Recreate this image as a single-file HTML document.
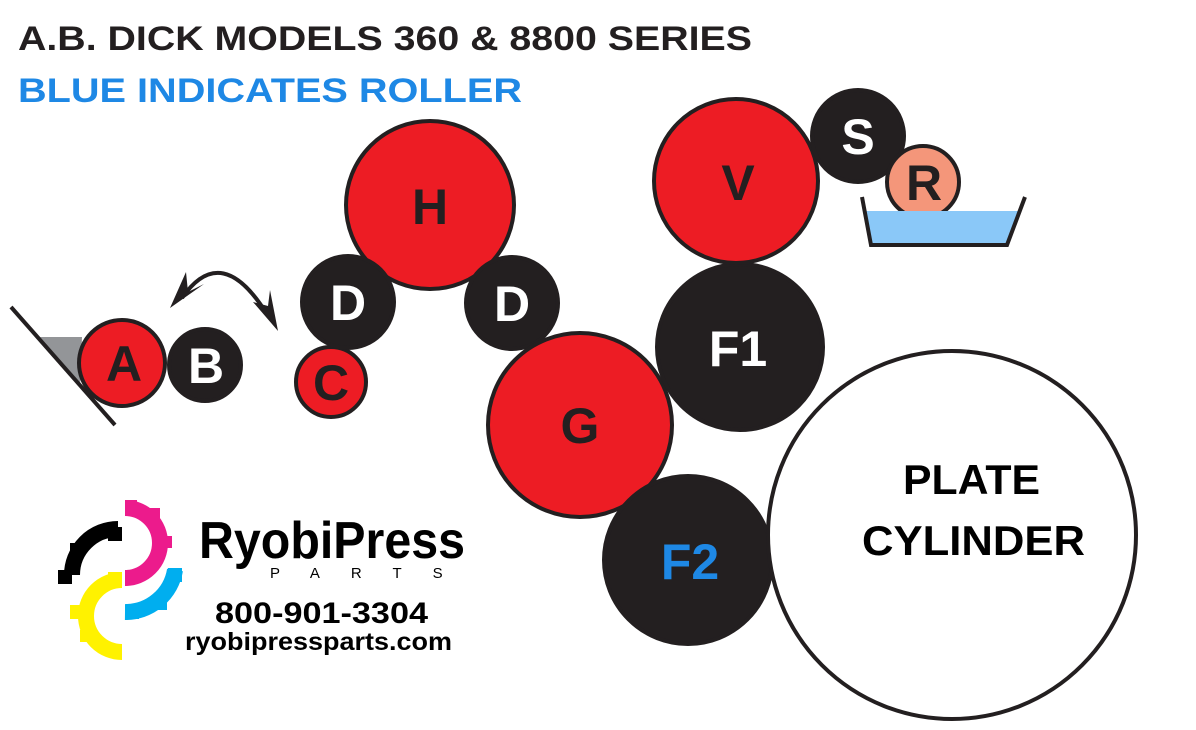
<!DOCTYPE html>
<html><head><style>
html,body{margin:0;padding:0;background:#fff;}
svg{display:block;}
text{font-family:"Liberation Sans",sans-serif;font-weight:bold;}
</style></head><body>
<svg width="1196" height="730" viewBox="0 0 1196 730" xmlns="http://www.w3.org/2000/svg">
<text x="18" y="50" font-size="34" fill="#231f20" textLength="734" lengthAdjust="spacingAndGlyphs">A.B. DICK MODELS 360 &amp; 8800 SERIES</text>
<text x="18" y="102" font-size="34" fill="#1e88e5" textLength="504" lengthAdjust="spacingAndGlyphs">BLUE INDICATES ROLLER</text>

<polygon points="40,337 82,337 80,385" fill="#939598"/>
<line x1="11" y1="307" x2="115" y2="425" stroke="#231f20" stroke-width="4"/>
<g stroke="#231f20" stroke-width="4">
<circle cx="122" cy="363" r="43" fill="#ed1c24"/>
<circle cx="205" cy="365" r="36" fill="#231f20"/>
<circle cx="331" cy="382" r="35" fill="#ed1c24"/>
<circle cx="430" cy="205" r="84" fill="#ed1c24"/>
<circle cx="348" cy="302" r="46" fill="#231f20"/>
<circle cx="512" cy="303" r="46" fill="#231f20"/>
<circle cx="580" cy="425" r="92" fill="#ed1c24"/>
<circle cx="740" cy="347" r="83" fill="#231f20"/>
<circle cx="736" cy="181" r="82" fill="#ed1c24"/>
<circle cx="688" cy="560" r="84" fill="#231f20"/>
<circle cx="952" cy="535" r="184" fill="#fff"/>
<circle cx="858" cy="136" r="46" fill="#231f20"/>
<circle cx="923" cy="182" r="36" fill="#f4967a"/>
</g>
<polygon points="866,211 1020,211 1007,245 871,245" fill="#8ac8f8"/>
<polyline points="862,197 871,245 1007,245 1025,197" fill="none" stroke="#231f20" stroke-width="4"/>

<path d="M182,298 Q222,240 268,316" fill="none" stroke="#231f20" stroke-width="4"/>
<polygon points="170,308 186,272 188,292 204,284" fill="#231f20"/>
<polygon points="278,331 253,302 268,306 270,290" fill="#231f20"/>

<g font-size="50" text-anchor="middle">
<text x="124" y="381" fill="#231f20">A</text>
<text x="206" y="383" fill="#fff">B</text>
<text x="331" y="400" fill="#231f20">C</text>
<text x="348" y="320" fill="#fff">D</text>
<text x="512" y="321" fill="#fff">D</text>
<text x="430" y="224" fill="#231f20">H</text>
<text x="580" y="443" fill="#231f20">G</text>
<text x="738" y="366" fill="#fff">F1</text>
<text x="690" y="579" fill="#1e88e5">F2</text>
<text x="738" y="200" fill="#231f20">V</text>
<text x="858" y="154" fill="#fff">S</text>
<text x="924" y="200" fill="#231f20">R</text>
</g>
<text x="903" y="494" font-size="42" fill="#000" textLength="137" lengthAdjust="spacingAndGlyphs">PLATE</text>
<text x="862" y="555" font-size="42" fill="#000" textLength="223" lengthAdjust="spacingAndGlyphs">CYLINDER</text>

<g fill="none" stroke-width="16">
<path d="M72,575 A46,46 0 0 1 118,529" stroke="#000"/>
<path d="M125,508 A35,35 0 0 1 125,578" stroke="#ec1b8c"/>
<path d="M122,580 A36,36 0 0 0 122,652" stroke="#fff200"/>
<path d="M125,612 A50,50 0 0 0 175,570" stroke="#00aeef"/>
</g>
<g>
<rect x="58" y="570" width="14" height="14" fill="#000"/>
<rect x="108" y="527" width="14" height="14" fill="#000"/>
<rect x="70" y="543" width="12" height="12" fill="#000"/>
<rect x="125" y="500" width="12" height="14" fill="#ec1b8c"/>
<rect x="158" y="536" width="14" height="12" fill="#ec1b8c"/>
<rect x="125" y="572" width="12" height="12" fill="#ec1b8c"/>
<rect x="148" y="508" width="12" height="12" fill="#ec1b8c"/>
<rect x="108" y="572" width="14" height="12" fill="#fff200"/>
<rect x="70" y="605" width="14" height="14" fill="#fff200"/>
<rect x="108" y="645" width="14" height="12" fill="#fff200"/>
<rect x="80" y="630" width="12" height="12" fill="#fff200"/>
<rect x="125" y="605" width="14" height="14" fill="#00aeef"/>
<rect x="168" y="568" width="14" height="14" fill="#00aeef"/>
<rect x="155" y="598" width="12" height="12" fill="#00aeef"/>
</g>
<text x="199" y="558" font-size="52" fill="#000" textLength="266" lengthAdjust="spacingAndGlyphs">RyobiPress</text>
<text x="270" y="578" font-size="15" fill="#000" letter-spacing="31" style="font-weight:normal">PARTS</text>
<text x="215" y="623" font-size="30" fill="#000" textLength="213" lengthAdjust="spacingAndGlyphs">800-901-3304</text>
<text x="185" y="650" font-size="25" fill="#000" textLength="267" lengthAdjust="spacingAndGlyphs">ryobipressparts.com</text>
</svg>
</body></html>
